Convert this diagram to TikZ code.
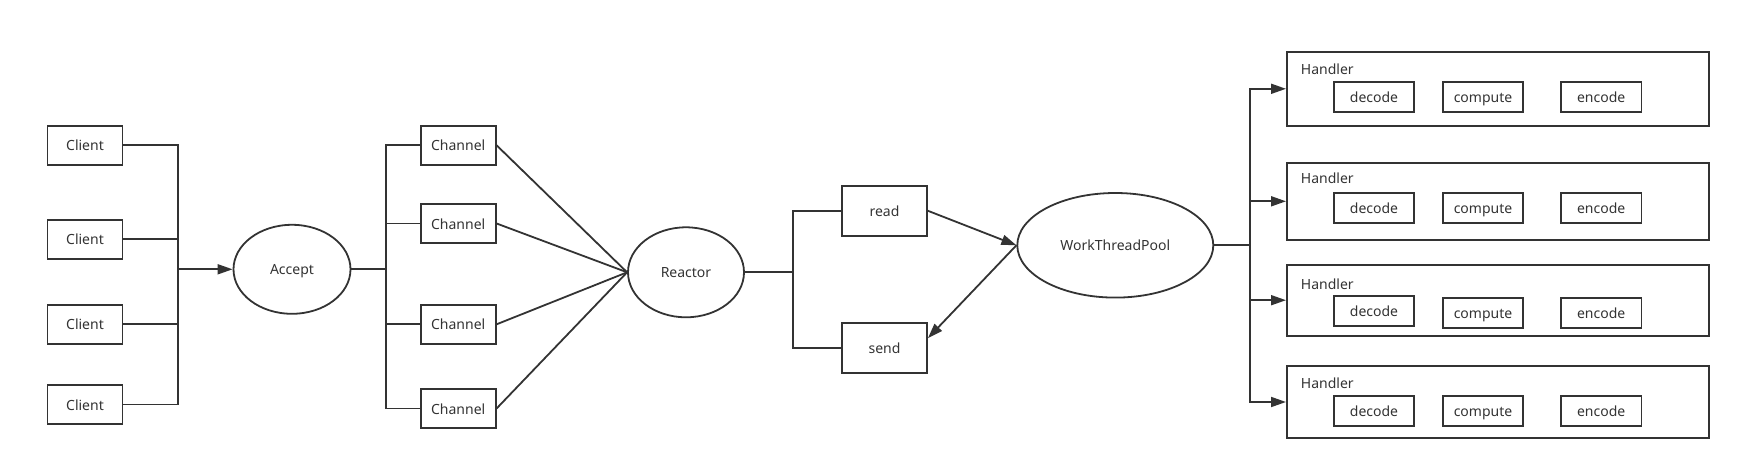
\documentclass[tikz,border=0pt]{standalone}
\usepackage{fontspec}
\setmainfont{Noto Sans}
\usetikzlibrary{shapes.geometric,arrows.meta,calc}
\definecolor{ink}{HTML}{333333}
\begin{document}
\begin{tikzpicture}[x=1pt,y=-1pt,color=ink,line width=1.8pt,
  txt/.style={font=\fontsize{14}{16}\selectfont,text height=12pt,text depth=0.6pt},
  box/.style={draw,rectangle,inner sep=0pt,txt},
  cbox/.style={box,minimum width=75pt,minimum height=39pt},
  rbox/.style={box,minimum width=85pt,minimum height=50pt},
  ibox/.style={box,minimum width=80.6pt,minimum height=30.3pt},
  hbox/.style={draw,rectangle,inner sep=0pt,minimum width=422pt},
  ell/.style={draw,ellipse,inner sep=0pt,txt},
  hlabel/.style={anchor=west,inner sep=0pt,txt},
  arr/.style={-{Triangle[length=15pt,width=10pt]}}
]
\useasboundingbox (0,0) rectangle (1741,470);

% clients
\node[cbox] (c1) at (85,145.3) {Client};
\node[cbox] (c2) at (85,239.3) {Client};
\node[cbox] (c3) at (85,324.3) {Client};
\node[cbox] (c4) at (85,404.5) {Client};

\node[ell,minimum width=117pt,minimum height=89pt] (acc) at (292,269.3) {Accept};

% channels
\node[cbox] (ch1) at (458.2,145.3) {Channel};
\node[cbox] (ch2) at (458.2,223.5) {Channel};
\node[cbox] (ch3) at (458.2,324.3) {Channel};
\node[cbox] (ch4) at (458.2,408.5) {Channel};

\node[ell,minimum width=116pt,minimum height=90pt] (rea) at (686,272.3) {Reactor};

\node[rbox] (read) at (884.5,210.8) {read};
\node[rbox] (send) at (884.5,347.7) {send};

\node[ell,minimum width=196pt,minimum height=104.6pt] (wtp) at (1115.3,245.3) {WorkThreadPool};

% handlers
\node[hbox,minimum height=73.7pt] (h1) at (1497.9,88.8) {};
\node[hbox,minimum height=77.3pt] (h2) at (1497.9,201.3) {};
\node[hbox,minimum height=71pt] (h3) at (1497.9,300.2) {};
\node[hbox,minimum height=72pt] (h4) at (1497.9,402) {};

\node[hlabel] (h1l) at (1300,68.7) {Handler};
\node[hlabel] (h2l) at (1300,178) {Handler};
\node[hlabel] (h3l) at (1300,284) {Handler};
\node[hlabel] (h4l) at (1300,382.7) {Handler};

\node[ibox] (d1) at (1374,96.8) {decode};
\node[ibox] (p1) at (1483,96.8) {compute};
\node[ibox] (e1) at (1601.2,96.8) {encode};
\node[ibox] (d2) at (1374,207.8) {decode};
\node[ibox] (p2) at (1483,207.8) {compute};
\node[ibox] (e2) at (1601.2,207.8) {encode};
\node[ibox] (d3) at (1374,311) {decode};
\node[ibox] (p3) at (1483,313) {compute};
\node[ibox] (e3) at (1601.2,313) {encode};
\node[ibox] (d4) at (1374,410.8) {decode};
\node[ibox] (p4) at (1483,410.8) {compute};
\node[ibox] (e4) at (1601.2,410.8) {encode};

% bus points
\coordinate (cb) at (177.7,269.3);
\coordinate (ab) at (386,269.3);
\coordinate (rb) at (792.7,272.3);
\coordinate (wb) at (1250,245.3);

% connectors
\draw (c1.east) -| (cb) |- (c4.east);
\draw (c2.east) -- (c2.east -| cb);
\draw (c3.east) -- (c3.east -| cb);
\draw[arr] (cb) -- (acc.west);

\draw (acc.east) -- (ab);
\draw (ch1.west) -| (ab) |- (ch4.west);
\draw (ch2.west) -- (ch2.west -| ab);
\draw (ch3.west) -- (ch3.west -| ab);

\draw (ch1.east) -- (rea.west);
\draw (ch2.east) -- (rea.west);
\draw (ch3.east) -- (rea.west);
\draw (ch4.east) -- (rea.west);

\draw (rea.east) -- (rb);
\draw (read.west) -| (rb) |- (send.west);

\draw[arr] (read.east) -- (wtp.west);
\draw[arr] (wtp.west) -- ($(send.east)+(0,-9.5)$);

\draw (wtp.east) -- (wb);
\draw[arr] (wb) |- (h1.west);
\draw[arr] (wb) |- (h4.west);
\draw[arr] (h2.west -| wb) -- (h2.west);
\draw[arr] (h3.west -| wb) -- (h3.west);
\end{tikzpicture}
\end{document}
